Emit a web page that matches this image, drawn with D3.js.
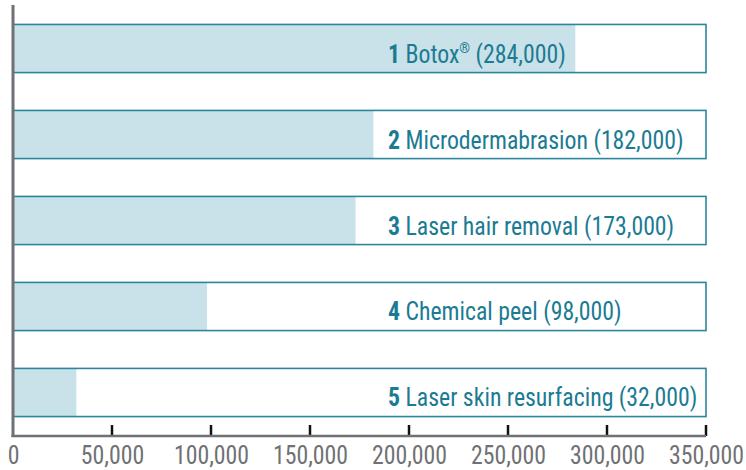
<!DOCTYPE html>
<html>
<head>
<meta charset="utf-8">
<script src="https://cdn.jsdelivr.net/npm/d3@7"></script>
<style>
  html, body { margin: 0; padding: 0; background: #ffffff; }
  svg { display: block; }
  text { font-family: "Liberation Sans Narrow", "Roboto Condensed", "Arial Narrow", sans-serif; }
</style>
</head>
<body>
<svg id="chart" width="746" height="470"></svg>
<script>
// Data
const ranks = [1, 2, 3, 4, 5];
const procedures = ["Botox", "Microdermabrasion", "Laser hair removal", "Chemical peel", "Laser skin resurfacing"];
const marks = ["®", "", "", "", ""];
const values = [284000, 182000, 173000, 98000, 32000];
const tickValues = [0, 50000, 100000, 150000, 200000, 250000, 300000, 350000];
const domainMax = 350000;

(function () {
const plotLeft = 13, plotRight = 706, plotTop = 5, axisY = 436;
const squeeze = 0.915;

const svg = d3.select("#chart");
const x = d3.scaleLinear().domain([0, domainMax]).range([plotLeft, plotRight]);
const y = d3.scaleBand().domain(ranks).range([plotTop, axisY]).paddingInner(0.44).paddingOuter(0.226);

const teal = "#1a7b93";
const fill = "#c9e1e8";
const stroke = "#2a869d";
const gray = "#6f7174";

// filled part
svg.append("g").selectAll("rect.fill").data(ranks).join("rect")
  .attr("class", "fill")
  .attr("x", x(0))
  .attr("y", d => y(d))
  .attr("width", (d, i) => x(values[i]) - x(0))
  .attr("height", y.bandwidth())
  .attr("fill", fill);

// outline boxes
svg.append("g").selectAll("rect.box").data(ranks).join("rect")
  .attr("class", "box")
  .attr("x", x(0))
  .attr("y", d => y(d))
  .attr("width", x(domainMax) - x(0))
  .attr("height", y.bandwidth())
  .attr("fill", "none")
  .attr("stroke", stroke)
  .attr("stroke-width", 1.6);

// labels
const fmt = d3.format(",");
const lbl = svg.append("g").selectAll("text").data(ranks).join("text")
  .attr("transform", d => `translate(388,${y(d) + y.bandwidth() / 2 + 14}) scale(${squeeze},1)`)
  .attr("fill", teal)
  .attr("font-size", 26);
lbl.append("tspan").attr("font-weight", "bold").text(d => d);
lbl.append("tspan").text((d, i) => " " + procedures[i]);
lbl.each(function (d, i) {
  if (marks[i] !== "") {
    d3.select(this).append("tspan").attr("font-size", 15).attr("dy", -10).text(marks[i]);
  }
  d3.select(this).append("tspan")
    .attr("dy", marks[i] !== "" ? 10 : 0)
    .text(" (" + fmt(values[i]) + ")");
});

// x axis
const xAxis = d3.axisBottom(x).tickValues(tickValues).tickFormat(fmt).tickSize(0).tickPadding(10);
const gx = svg.append("g").attr("transform", `translate(0,${axisY})`).call(xAxis);
gx.select(".domain").remove();
gx.selectAll("text").attr("font-size", 26).attr("fill", gray)
  .attr("transform", `scale(${squeeze},1)`)
  .attr("font-family", "'Liberation Sans Narrow', sans-serif");

// tick marks (pointing up)
svg.append("g").selectAll("line").data(tickValues.filter(t => t > 0)).join("line")
  .attr("x1", d => x(d)).attr("x2", d => x(d))
  .attr("y1", axisY - 11).attr("y2", axisY)
  .attr("stroke", "#111").attr("stroke-width", 2.5);

// horizontal axis line
svg.append("line")
  .attr("x1", x(0) - 1.5).attr("x2", x(domainMax))
  .attr("y1", axisY).attr("y2", axisY)
  .attr("stroke", gray).attr("stroke-width", 2.5);

// vertical axis line
svg.append("line")
  .attr("x1", x(0)).attr("x2", x(0))
  .attr("y1", plotTop).attr("y2", axisY + 1)
  .attr("stroke", gray).attr("stroke-width", 3);
})();
</script>
</body>
</html>
